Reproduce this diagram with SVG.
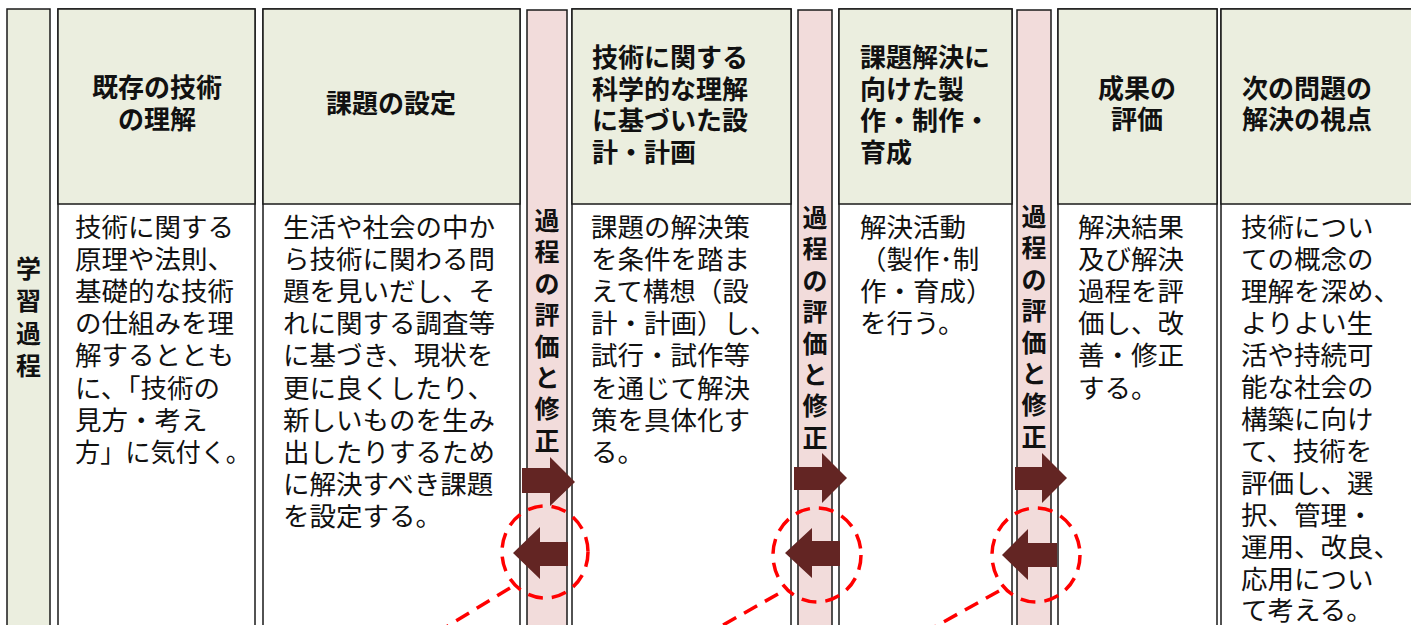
<svg xmlns="http://www.w3.org/2000/svg" width="1411" height="625" viewBox="0 0 1411 625">
<style>
.box{fill:#ffffff;stroke:#1a1a1a;stroke-width:1.5}
.hdr{fill:#ebeedf;stroke:#1a1a1a;stroke-width:1.5}
.pink{fill:#f2dcdb;stroke:#1a1a1a;stroke-width:1.5}
.ht{font-family:"Noto Sans CJK JP","Noto Sans",sans-serif;font-size:26px;font-weight:bold;fill:#111}
.bt{font-family:"Noto Sans CJK JP","Noto Sans",sans-serif;font-size:26.5px;fill:#111}
.vt{font-family:"Noto Sans CJK JP","Noto Sans",sans-serif;font-size:25px;font-weight:bold;fill:#111;text-anchor:middle}
.arr{fill:#632523}
.dash{fill:none;stroke:#ff0000;stroke-width:3.5;stroke-dasharray:15 9}
</style>
<rect width="1411" height="625" fill="#ffffff"/>

<g id="side">
<rect class="hdr" x="7" y="9" width="43" height="640"/>
<text class="vt" font-size="25"><tspan x="28.5" y="278">学</tspan><tspan x="28.5" y="310">習</tspan><tspan x="28.5" y="343">過</tspan><tspan x="28.5" y="375">程</tspan></text>
</g>

<g id="col1">
<rect class="box" x="58" y="9" width="197" height="640"/>
<rect class="hdr" x="58" y="9" width="197" height="195"/>
<text class="ht" text-anchor="middle"><tspan x="157" y="97">既存の技術</tspan><tspan x="157" y="129">の理解</tspan></text>
<text class="bt"><tspan x="75" y="237">技術に関する</tspan><tspan x="75" y="269.1">原理や法則、</tspan><tspan x="75" y="301.2">基礎的な技術</tspan><tspan x="75" y="333.3">の仕組みを理</tspan><tspan x="75" y="365.4">解するととも</tspan><tspan x="75" y="397.5">に、「技術の</tspan><tspan x="75" y="429.6">見方・考え</tspan></text>
<text class="bt" x="75" y="461.7" textLength="176" lengthAdjust="spacingAndGlyphs">方」に気付く。</text>
</g>

<g id="col2">
<rect class="box" x="263" y="9" width="257" height="640"/>
<rect class="hdr" x="263" y="9" width="257" height="195"/>
<text class="ht" text-anchor="middle" x="391" y="113">課題の設定</text>
<text class="bt"><tspan x="283" y="237">生活や社会の中か</tspan><tspan x="283" y="269.1">ら技術に関わる問</tspan><tspan x="283" y="301.2">題を見いだし、そ</tspan><tspan x="283" y="333.3">れに関する調査等</tspan><tspan x="283" y="365.4">に基づき、現状を</tspan><tspan x="283" y="397.5">更に良くしたり、</tspan><tspan x="283" y="429.6">新しいものを生み</tspan><tspan x="283" y="461.7">出したりするため</tspan><tspan x="283" y="493.8">に解決すべき課題</tspan><tspan x="283" y="525.9">を設定する。</tspan></text>
</g>

<g id="eval1">
<rect class="pink" x="527" y="10" width="40" height="640"/>
<text class="vt"><tspan x="547" y="230">過</tspan><tspan x="547" y="261.4">程</tspan><tspan x="547" y="292.8">の</tspan><tspan x="547" y="324.2">評</tspan><tspan x="547" y="355.6">価</tspan><tspan x="547" y="387">と</tspan><tspan x="547" y="418.4">修</tspan><tspan x="547" y="449.8">正</tspan></text>
</g>

<g id="col3">
<rect class="box" x="572" y="9" width="219" height="640"/>
<rect class="hdr" x="572" y="9" width="219" height="195"/>
<text class="ht"><tspan x="592" y="67">技術に関する</tspan><tspan x="592" y="98.5">科学的な理解</tspan><tspan x="592" y="130">に基づいた設</tspan><tspan x="592" y="161.5">計・計画</tspan></text>
<text class="bt"><tspan x="591" y="237">課題の解決策</tspan><tspan x="591" y="269.1">を条件を踏ま</tspan><tspan x="591" y="301.2">えて構想（設</tspan><tspan x="591" y="333.3">計・計画）し、</tspan><tspan x="591" y="365.4">試行・試作等</tspan><tspan x="591" y="397.5">を通じて解決</tspan><tspan x="591" y="429.6">策を具体化す</tspan><tspan x="591" y="461.7">る。</tspan></text>
</g>

<g id="eval2">
<rect class="pink" x="798" y="10" width="34" height="640"/>
<text class="vt"><tspan x="815" y="227">過</tspan><tspan x="815" y="258.4">程</tspan><tspan x="815" y="289.8">の</tspan><tspan x="815" y="321.2">評</tspan><tspan x="815" y="352.6">価</tspan><tspan x="815" y="384">と</tspan><tspan x="815" y="415.4">修</tspan><tspan x="815" y="446.8">正</tspan></text>
</g>

<g id="col4">
<rect class="box" x="839" y="9" width="173" height="640"/>
<rect class="hdr" x="839" y="9" width="173" height="195"/>
<text class="ht"><tspan x="860" y="67">課題解決に</tspan><tspan x="860" y="98.5">向けた製</tspan><tspan x="860" y="130">作・制作・</tspan><tspan x="860" y="161.5">育成</tspan></text>
<text class="bt"><tspan x="860" y="237">解決活動</tspan><tspan x="860" y="269.1">（製作･制</tspan><tspan x="860" y="301.2">作・育成）</tspan><tspan x="860" y="333.3">を行う。</tspan></text>
</g>

<g id="eval3">
<rect class="pink" x="1017" y="10" width="34" height="640"/>
<text class="vt"><tspan x="1034" y="226">過</tspan><tspan x="1034" y="257.4">程</tspan><tspan x="1034" y="288.8">の</tspan><tspan x="1034" y="320.2">評</tspan><tspan x="1034" y="351.6">価</tspan><tspan x="1034" y="383">と</tspan><tspan x="1034" y="414.4">修</tspan><tspan x="1034" y="445.8">正</tspan></text>
</g>

<g id="col5">
<rect class="box" x="1058" y="9" width="159" height="640"/>
<rect class="hdr" x="1058" y="9" width="159" height="195"/>
<text class="ht" text-anchor="middle"><tspan x="1137" y="98">成果の</tspan><tspan x="1137" y="129">評価</tspan></text>
<text class="bt"><tspan x="1078" y="237">解決結果</tspan><tspan x="1078" y="269.1">及び解決</tspan><tspan x="1078" y="301.2">過程を評</tspan><tspan x="1078" y="333.3">価し、改</tspan><tspan x="1078" y="365.4">善・修正</tspan><tspan x="1078" y="397.5">する。</tspan></text>
</g>

<g id="col6">
<rect class="box" x="1221" y="9" width="200" height="640"/>
<rect class="hdr" x="1221" y="9" width="200" height="195"/>
<text class="ht"><tspan x="1242" y="98">次の問題の</tspan><tspan x="1242" y="129">解決の視点</tspan></text>
<text class="bt"><tspan x="1241" y="237">技術につい</tspan><tspan x="1241" y="269">ての概念の</tspan><tspan x="1241" y="301">理解を深め、</tspan><tspan x="1241" y="333">よりよい生</tspan><tspan x="1241" y="365">活や持続可</tspan><tspan x="1241" y="397">能な社会の</tspan><tspan x="1241" y="429">構築に向け</tspan><tspan x="1241" y="461">て、技術を</tspan><tspan x="1241" y="493">評価し、選</tspan><tspan x="1241" y="525">択、管理・</tspan><tspan x="1241" y="557">運用、改良、</tspan><tspan x="1241" y="589">応用につい</tspan><tspan x="1241" y="620">て考える。</tspan></text>
</g>

<g id="connectors">
<polygon class="arr" points="522,468 550,468 550,457 575,482 550,506 550,493 522,493"/>
<polygon class="arr" points="568,542 540,542 540,527 513,553 540,579 540,566 568,566"/>
<ellipse class="dash" cx="545" cy="552" rx="43" ry="46"/>
<line class="dash" x1="510" y1="588" x2="438" y2="632"/>

<polygon class="arr" points="794,467 822,467 822,453 847,478 822,503 822,490 794,490"/>
<polygon class="arr" points="840,541 812,541 812,528 785,553 812,578 812,566 840,566"/>
<ellipse class="dash" cx="817" cy="555" rx="44" ry="47"/>
<line class="dash" x1="778" y1="594" x2="700" y2="638"/>

<polygon class="arr" points="1015,467 1042,467 1042,453 1067,478 1042,503 1042,490 1015,490"/>
<polygon class="arr" points="1057,543 1028,543 1028,529 1002,555 1028,580 1028,567 1057,567"/>
<ellipse class="dash" cx="1036" cy="555" rx="44" ry="47"/>
<line class="dash" x1="999" y1="591" x2="920" y2="635"/>
</g>
</svg>
